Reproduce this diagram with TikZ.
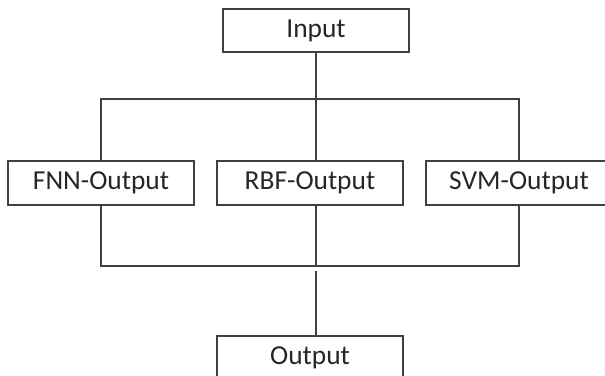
\documentclass[tikz,border=0pt]{standalone}
\usepackage{fontspec}
\setmainfont{Carlito}
\tikzset{
  box/.style={draw=black!75, line width=0.9pt, fill=white, text=black!85,
    minimum width=3.72cm, minimum height=0.87cm, inner sep=0pt,
    font=\fontsize{15.6}{18}\selectfont},
  wire/.style={draw=black!75, line width=0.9pt}
}
\begin{document}
\begin{tikzpicture}
      \clip (0,0) rectangle (12.1,7.5);
      \fill[white] (0,0) rectangle (12.1,7.5);
      \draw[draw=none]
        (6.32,6.89) node[box] (input){Input}
        (2.02,3.84) node[box] (fnn){FNN-Output}
        (6.20,3.84) node[box] (rbf){RBF-Output}
        (10.38,3.84) node[box] (svm){SVM-Output}
        (6.20,0.34) node[box] (output){Output};
      \coordinate (split) at (6.32,5.52);
      \coordinate (merge) at (6.32,2.18);
      \begin{scope}[wire]
        \draw (input.south -| split) -- (split);
        \draw (split) -| (fnn.north);
        \draw (split) -| (svm.north);
        \draw (split) -- (split |- rbf.north);
        \draw (fnn.south) |- (merge);
        \draw (svm.south) |- (merge);
        \draw (rbf.south -| merge) -- (merge);
        \draw ([yshift=-0.1cm]merge) -- (output.north -| merge);
      \end{scope}
    \end{tikzpicture}
\end{document}
